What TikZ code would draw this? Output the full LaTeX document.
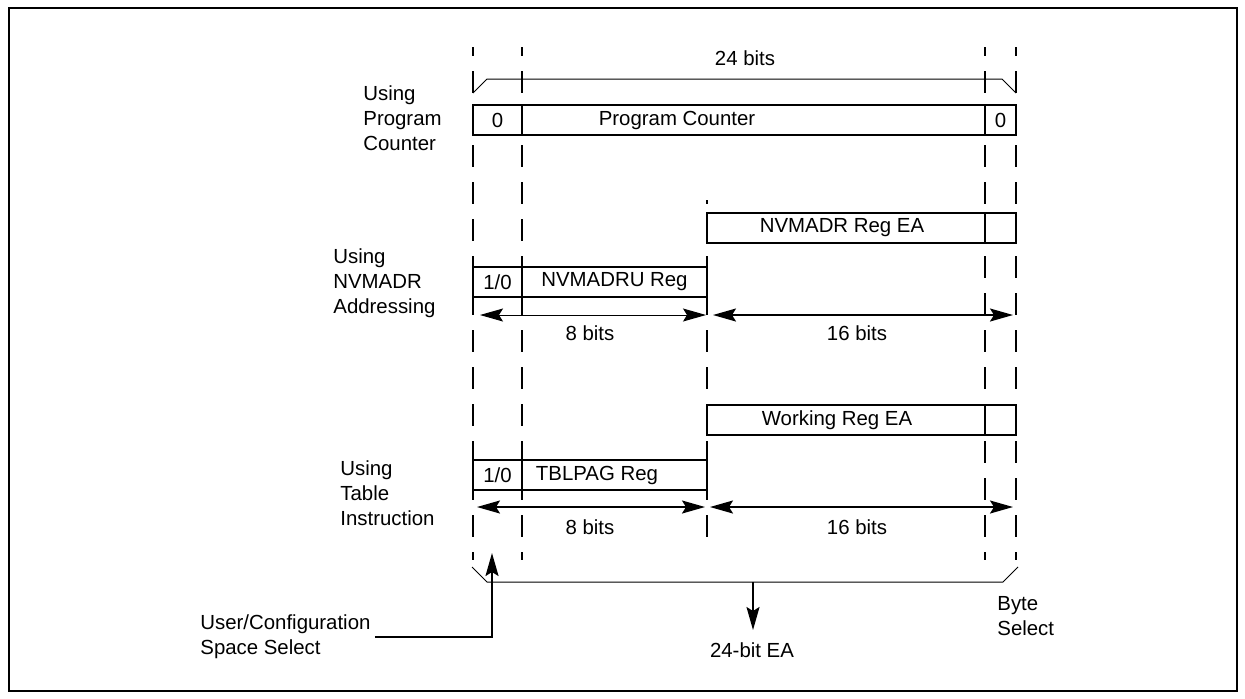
\documentclass[tikz,border=0pt]{standalone}
\usepackage{fontspec}
\setmainfont{Liberation Sans}
\usetikzlibrary{arrows.meta}
\begin{document}
\begin{tikzpicture}[x=0.5pt,y=-0.5pt,
  >={Stealth[length=11.5pt,width=6.5pt,inset=2pt]},
  cell/.style={draw, fill=white, line width=1pt, minimum height=15pt, inner sep=0pt, outer sep=0pt, anchor=north west, font=\fontsize{10.2}{12.5}\selectfont},
  lbl/.style={inner sep=0pt, font=\fontsize{10.2}{12.5}\selectfont},
  dl/.style={line width=1pt, dash pattern=on 11pt off 7.5pt},
  dimthin/.style={line width=0.5pt, <->},
  dimthick/.style={line width=0.9pt, <->},
  brace/.style={line width=0.5pt},
]
\useasboundingbox (0,0) rectangle (1245,698);
\draw[line width=1pt] (8.5,7.5) rectangle (1236.5,690.5);

% dashed guide lines
\draw[dl, dash phase=6.5pt] (473,47) -- (473,560);
\draw[dl, dash phase=6.5pt] (522,47) -- (522,560);
\draw[dl, dash phase=6.5pt] (985,47) -- (985,560);
\draw[dl, dash phase=6.5pt] (1016,47) -- (1016,560);
\draw[dl, dash phase=9pt] (707,200) -- (707,537);

% top brace
\draw[brace] (473,93) -- (487,79) -- (1002,79) -- (1016,93);
\node[lbl] (b24) at (745,58) {24 bits};

% row 1: program counter
\node[cell, minimum width=24.5pt] (pcz) at (473,105) {0};
\node[cell, minimum width=231.5pt] (pcm) at (522,105) {};
\node[cell, minimum width=15.5pt] (pco) at (985,105) {0};
\node[lbl] (pct) at (677,120) {Program Counter};
\node[lbl, align=left, anchor=west] (upc) at (363,118) {Using\\Program\\Counter};

% row 2: NVMADR
\node[cell, minimum width=139pt] (nea) at (707,213) {};
\node[cell, minimum width=15.5pt] (neb) at (985,213) {};
\node[lbl] (neat) at (842,228) {NVMADR Reg EA};
\node[cell, minimum width=24.5pt] (nua) at (473,267) {1/0};
\node[cell, minimum width=92.5pt] (nub) at (522,267) {NVMADRU Reg};
\node[lbl, align=left, anchor=west] (unv) at (333,283) {Using\\NVMADR\\Addressing};

\coordinate (a1l) at (480,315); \coordinate (a1r) at (706,315);
\coordinate (a2l) at (713,315); \coordinate (a2r) at (1013,315);
\draw[dimthin] (a1l) -- (a1r);
\draw[dimthick] (a2l) -- (a2r);
\node[lbl] (b8a) at (590,333) {8 bits};
\node[lbl] (b16a) at (857,333) {16 bits};

% row 3: table instruction
\node[cell, minimum width=139pt] (wea) at (707,405) {};
\node[cell, minimum width=15.5pt] (web) at (985,405) {};
\node[lbl] (weat) at (837,420) {Working Reg EA};
\node[cell, minimum width=24.5pt] (tba) at (473,460) {1/0};
\node[cell, minimum width=92.5pt] (tbb) at (522,460) {};
\node[lbl] (tbt) at (597,475) {TBLPAG Reg};
\node[lbl, align=left, anchor=west] (utb) at (340,493) {Using\\Table\\Instruction};

\coordinate (a3l) at (477,507); \coordinate (a3r) at (705,507);
\coordinate (a4l) at (710,507); \coordinate (a4r) at (1013,507);
\draw[dimthick] (a3l) -- (a3r);
\draw[dimthick] (a4l) -- (a4r);
\node[lbl] (b8b) at (590,527) {8 bits};
\node[lbl] (b16b) at (857,527) {16 bits};

% bottom brace
\draw[brace] (472,567) -- (487,582) -- (1003,582) -- (1018,567);
\coordinate (bb) at (753,582);
\coordinate (eatip) at (753,630);
\draw[line width=1pt,->] (bb) -- (eatip);
\node[lbl] (ea) at (752,650) {24-bit EA};
\node[lbl, align=left, anchor=west] (bs) at (997,616) {Byte\\Select};

\node[lbl, align=left, anchor=west] (ucs) at (200,637) {User/Configuration\\Space Select};
\coordinate (ucstip) at (492,553);
\draw[line width=1pt,->] ([xshift=2pt]ucs.east) -| (ucstip);
\end{tikzpicture}
\end{document}
